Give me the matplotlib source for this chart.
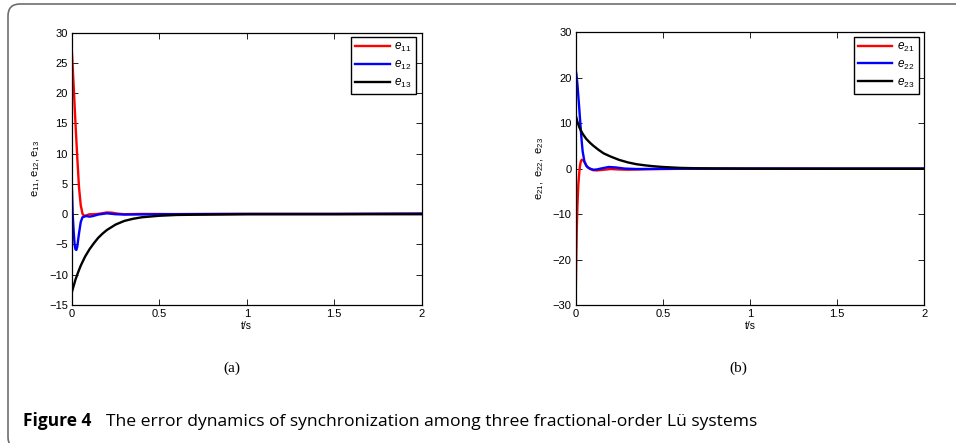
import matplotlib
matplotlib.use('Agg')
import matplotlib.pyplot as plt
from matplotlib.patches import FancyBboxPatch
from matplotlib.transforms import IdentityTransform

plt.rcParams['font.family'] = ['Liberation Sans', 'DejaVu Sans']
plt.rcParams['mathtext.fontset'] = 'custom'
plt.rcParams['mathtext.rm'] = 'Liberation Sans'
plt.rcParams['mathtext.it'] = 'Liberation Sans:italic'

# ---- data ----
# panel (a)
t_e11 = [0, 0.01, 0.02, 0.03, 0.04, 0.05, 0.06, 0.07, 0.08, 0.1, 0.13, 0.16, 0.2, 0.23,
         0.26, 0.3, 0.4, 0.6, 1.0, 1.5, 2.0]
e11 = [26.5, 21, 15, 9.5, 4.5, 1.5, 0.1, -0.3, -0.2, 0.0, 0.0, 0.1, 0.3, 0.25,
       0.1, 0.0, 0.05, 0.02, 0.05, 0.05, 0.1]

t_e12 = [0, 0.004, 0.01, 0.015, 0.02, 0.025, 0.03, 0.04, 0.05, 0.06, 0.08, 0.1, 0.12,
         0.15, 0.2, 0.25, 0.3, 0.5, 1.0, 1.5, 2.0]
e12 = [4, 0, -3, -5, -5.8, -5.9, -5.4, -3.2, -1.3, -0.5, -0.3, -0.4, -0.3,
       -0.05, 0.15, 0.0, -0.05, 0.0, 0.05, 0.05, 0.1]

t_e13 = [0, 0.01, 0.02, 0.035, 0.05, 0.075, 0.1, 0.125, 0.15, 0.175, 0.2, 0.25, 0.3,
         0.35, 0.4, 0.5, 0.6, 0.7, 0.8, 1.0, 1.5, 2.0]
e13 = [-12.8, -11.8, -10.8, -9.6, -8.5, -7.0, -5.8, -4.8, -3.9, -3.2, -2.6, -1.7, -1.1,
       -0.75, -0.5, -0.25, -0.12, -0.08, -0.05, 0, 0, 0]

# panel (b)
t_e21 = [0, 0.003, 0.006, 0.01, 0.015, 0.02, 0.025, 0.03, 0.035, 0.045, 0.055, 0.065,
         0.08, 0.1, 0.12, 0.15, 0.2, 0.25, 0.3, 0.4, 0.6, 1.0, 1.5, 2.0]
e21 = [-28, -20, -13.5, -8, -3.5, -1, 0.8, 1.7, 2.0, 1.8, 1.2, 0.5,
       0.0, -0.3, -0.35, -0.25, -0.05, -0.15, -0.2, -0.1, 0, 0, 0, 0]

t_e22 = [0, 0.005, 0.01, 0.015, 0.02, 0.025, 0.03, 0.035, 0.04, 0.05, 0.06, 0.07, 0.085,
         0.1, 0.12, 0.15, 0.19, 0.23, 0.28, 0.35, 0.5, 1.0, 1.5, 2.0]
e22 = [21.8, 20.5, 18.5, 16, 13.5, 10.8, 8.2, 5.8, 3.8, 1.6, 0.7, 0.3, 0.0,
       -0.2, -0.15, 0.1, 0.4, 0.3, 0.05, -0.05, 0, 0.05, 0.05, 0.05]

t_e23 = [0, 0.01, 0.02, 0.03, 0.04, 0.06, 0.08, 0.1, 0.13, 0.16, 0.2, 0.25, 0.3, 0.35,
         0.4, 0.45, 0.5, 0.6, 0.7, 0.8, 1.0, 1.5, 2.0]
e23 = [11.8, 10.3, 9.2, 8.4, 7.7, 6.6, 5.8, 5.1, 4.2, 3.4, 2.7, 1.95, 1.4, 1.0,
       0.75, 0.55, 0.4, 0.2, 0.12, 0.08, 0.03, 0, 0]

xticks = [0, 0.5, 1, 1.5, 2]
xticklabels = ['0', '0.5', '1', '1.5', '2']
yticks_a = [-15, -10, -5, 0, 5, 10, 15, 20, 25, 30]
yticks_b = [-30, -20, -10, 0, 10, 20, 30]

fig = plt.figure(figsize=(9.56, 4.43), dpi=100)

# grey rounded frame of the figure box
frame = FancyBboxPatch((8, -6), 1100, 445, boxstyle='round,pad=0,rounding_size=12',
                       transform=IdentityTransform(), facecolor='none',
                       edgecolor='#6e6e6e', lw=1.2)
fig.add_artist(frame)

ax1 = fig.add_axes([0.0753, 0.3115, 0.3656, 0.6147])
ax2 = fig.add_axes([0.6022, 0.3108, 0.3646, 0.6163])


def style(ax, yticks, ylim, ylabel):
    ax.set_xlim(0, 2)
    ax.set_ylim(*ylim)
    ax.set_xticks(xticks)
    ax.set_xticklabels(xticklabels)
    ax.set_yticks(yticks)
    ax.tick_params(direction='in', length=4, width=0.6, labelsize=8, top=True, right=True, pad=3)
    for s in ax.spines.values():
        s.set_linewidth(0.9)
    ax.set_xlabel('t/s', fontsize=7.5, labelpad=1)
    ax.set_ylabel(ylabel, fontsize=8, labelpad=5)
    leg = ax.legend(loc='upper right', bbox_to_anchor=(0.984, 0.984), borderaxespad=0,
                    fontsize=8.5, handlelength=2.9, handletextpad=0.4, labelspacing=0.4,
                    fancybox=False, framealpha=1, borderpad=0.35)
    leg.get_frame().set_edgecolor('black')
    leg.get_frame().set_linewidth(1.0)


ax1.plot(t_e11, e11, color='red', lw=1.7, label=r'$\mathit{e_{11}}$')
ax1.plot(t_e12, e12, color='blue', lw=1.7, label=r'$\mathit{e_{12}}$')
ax1.plot(t_e13, e13, color='black', lw=1.7, label=r'$\mathit{e_{13}}$')
style(ax1, yticks_a, (-15, 30), r'$\mathrm{e_{11},e_{12},e_{13}}$')

ax2.plot(t_e21, e21, color='red', lw=1.7, label=r'$\mathit{e_{21}}$')
ax2.plot(t_e22, e22, color='blue', lw=1.7, label=r'$\mathit{e_{22}}$')
ax2.plot(t_e23, e23, color='black', lw=1.7, label=r'$\mathit{e_{23}}$')
style(ax2, yticks_b, (-30, 30), r'$\mathrm{e_{21},\ e_{22},\ e_{23}}$')

fig.text(232 / 956, 1 - 368 / 443, '(a)', ha='center', va='center',
         family='Liberation Serif', fontsize=11)
fig.text(738 / 956, 1 - 368 / 443, '(b)', ha='center', va='center',
         family='Liberation Serif', fontsize=11)

fig.text(23 / 956, 1 - 426 / 443, 'Figure 4', ha='left', va='baseline',
         family='Open Sans', fontweight='bold', fontsize=12.5)
fig.text(106 / 956, 1 - 426 / 443,
         'The error dynamics of synchronization among three fractional-order L\u00fc systems',
         ha='left', va='baseline', family='Open Sans', fontsize=12.6)

fig.savefig('out.png', dpi=100)
